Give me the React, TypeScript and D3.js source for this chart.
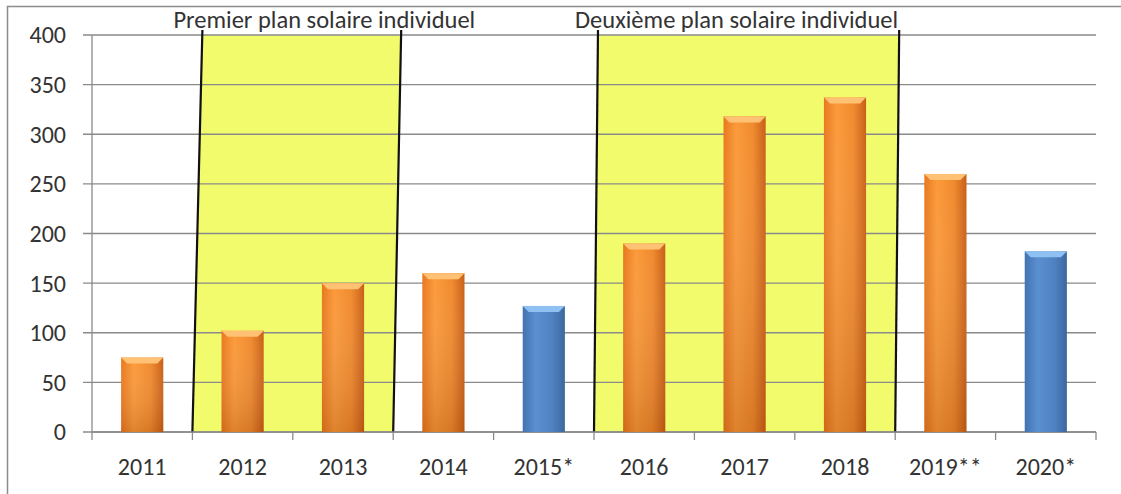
import React from 'react';
import * as d3 from 'd3';

// values (units, 2011 - 2020)
const years = ['2011', '2012', '2013', '2014', '2015*', '2016', '2017', '2018', '2019**', '2020*'];
const values = [75, 102, 150, 160, 127, 190, 318, 337, 260, 182];
const estimated = [false, false, false, false, true, false, false, false, false, true];
const yTicks = [0, 50, 100, 150, 200, 250, 300, 350, 400];

// the two plans: first and last year covered
const planNames = ['Premier plan solaire individuel', 'Deuxième plan solaire individuel'];
const planStart = ['2012', '2016'];
const planEnd = ['2013', '2018'];

const W = 1121, H = 494;
const margin = { top: 35, right: 25, bottom: 62, left: 92 };
const font = "Carlito, Lato, 'Open Sans', sans-serif";

export default function App() {
  const x = d3.scaleBand<string>()
    .domain(years)
    .range([margin.left, W - margin.right])
    .paddingInner(0.58)
    .paddingOuter(0.29);
  const step = x.step();
  const y = d3.scaleLinear().domain([0, 400]).range([H - margin.bottom, margin.top]);
  const left = (c: string) => x(c)! - x.paddingOuter() * step;
  const y0 = y(0), yTop = y(400);

  const plans = planNames.map((name, i) => {
    const xl = left(planStart[i]);
    const xr = left(planEnd[i]) + step;
    // slanted edges, leaning right towards the top
    const lean = i === 0 ? [10, 8] : [4, 4];
    return { name, xl, xr, lean };
  });

  return (
    <svg width={W} height={H} style={{ position: 'absolute', left: 0, top: 0, background: '#fff' }}
      fontFamily={font}>
      <defs>
        <linearGradient id="orange" x1="0" x2="1" y1="0" y2="0">
          <stop offset="0" stopColor="#e8781f" />
          <stop offset="0.3" stopColor="#fb9a3a" />
          <stop offset="0.7" stopColor="#f08a2e" />
          <stop offset="1" stopColor="#c85f17" />
        </linearGradient>
        <linearGradient id="orangeV" x1="0" x2="0" y1="0" y2="1">
          <stop offset="0" stopColor="#fff" stopOpacity="0" />
          <stop offset="1" stopColor="#7a3000" stopOpacity="0.22" />
        </linearGradient>
        <linearGradient id="blue" x1="0" x2="1" y1="0" y2="0">
          <stop offset="0" stopColor="#4273b0" />
          <stop offset="0.3" stopColor="#5a8fd0" />
          <stop offset="0.7" stopColor="#5082c2" />
          <stop offset="1" stopColor="#3b679e" />
        </linearGradient>
      </defs>

      {/* frame */}
      <rect x={7.5} y={6.5} width={W} height={H} fill="none" stroke="#8c8c8c" strokeWidth={1.5} />

      {/* plan zones */}
      {plans.map((p, i) => (
        <polygon key={'z' + i}
          points={`${p.xl},${y0} ${p.xl + p.lean[0]},${yTop} ${p.xr + p.lean[1]},${yTop} ${p.xr},${y0}`}
          fill="#f1fb6c" />
      ))}

      {/* gridlines */}
      {yTicks.map(t => (
        <line key={'g' + t} x1={margin.left - 9} x2={W - margin.right} y1={y(t)} y2={y(t)}
          stroke="#8a8a8a" strokeWidth={1.3} />
      ))}

      {/* zone edges */}
      {plans.map((p, i) => (
        <g key={'e' + i} stroke="#111" strokeWidth={2.2}>
          <line x1={p.xl} y1={y0} x2={p.xl + p.lean[0]} y2={yTop - 5} />
          <line x1={p.xr} y1={y0} x2={p.xr + p.lean[1]} y2={yTop - 5} />
        </g>
      ))}

      {/* axes */}
      <line x1={margin.left} x2={margin.left} y1={yTop} y2={y0} stroke="#8a8a8a" strokeWidth={1.3} />
      <line x1={margin.left} x2={W - margin.right} y1={y0} y2={y0} stroke="#8a8a8a" strokeWidth={1.3} />
      {years.map((c, i) => (
        <line key={'t' + i} x1={left(c)} x2={left(c)} y1={y0} y2={y0 + 8} stroke="#8a8a8a" strokeWidth={1.3} />
      ))}
      <line x1={W - margin.right} x2={W - margin.right} y1={y0} y2={y0 + 8} stroke="#8a8a8a" strokeWidth={1.3} />

      {/* bars */}
      {years.map((c, i) => {
        const bx = x(c)!, bw = x.bandwidth(), by = y(values[i]);
        const bev = 6;
        const fill = estimated[i] ? 'url(#blue)' : 'url(#orange)';
        const light = estimated[i] ? '#8fc0f2' : '#ffc173';
        return (
          <g key={'b' + i}>
            <rect x={bx} y={by} width={bw} height={y0 - by} fill={fill} />
            {!estimated[i] && <rect x={bx} y={by} width={bw} height={y0 - by} fill="url(#orangeV)" />}
            <polygon points={`${bx},${by} ${bx + bw},${by} ${bx + bw - bev},${by + bev} ${bx + bev},${by + bev}`}
              fill={light} />
          </g>
        );
      })}

      {/* y labels */}
      {yTicks.map(t => (
        <text key={'yl' + t} x={margin.left - 26} y={y(t)} dy="0.35em" textAnchor="end"
          fontSize={24} fill="#333">{t}</text>
      ))}

      {/* x labels */}
      {years.map(c => (
        <text key={'xl' + c} x={x(c)! + x.bandwidth() / 2} y={y0 + 43} textAnchor="middle"
          fontSize={24} fill="#333">{c}</text>
      ))}

      {/* plan titles */}
      {plans.map((p, i) => (
        <text key={'pt' + i} x={p.xl - 19} y={28} textAnchor="start"
          fontSize={24.5} fill="#333">{p.name}</text>
      ))}
    </svg>
  );
}
